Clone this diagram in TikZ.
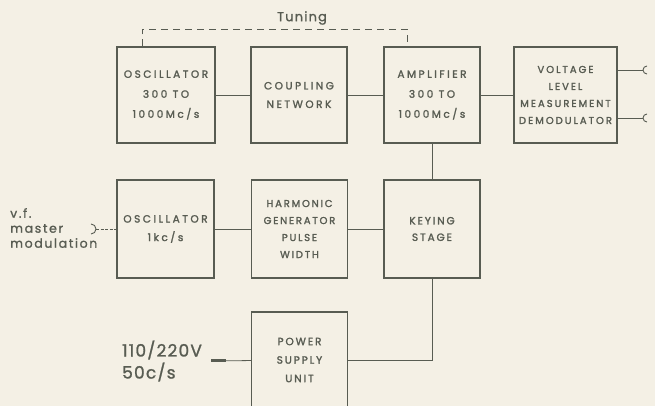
\documentclass[tikz,border=0pt]{standalone}
\usepackage{fontspec}
\setmainfont{Poppins}[FakeBold=1.2]
\newfontfamily\stencil[LetterSpace=24, FakeBold=1.8]{Poppins}
\usetikzlibrary{positioning}
\definecolor{inkGrey}{RGB}{88,92,82}
\definecolor{paper}{RGB}{244,240,229}

\begin{document}
\begin{tikzpicture}[x=1pt, y=1pt,
    unit/.style={draw=inkGrey, line width=1.2pt, minimum width=96pt, minimum height=96pt, inner sep=1pt,
      align=center, text=inkGrey, font=\stencil\fontsize{10.5}{18.5}\selectfont},
    wire/.style={draw=inkGrey, line width=0.8pt},
    jack/.style={draw=inkGrey, line width=0.9pt},
    tag/.style={text=inkGrey, inner sep=0pt}]
  \fill[paper] (0,0) rectangle (655,406);
  \useasboundingbox (0,0) rectangle (655,406);
  \clip (0,0) rectangle (655,406);
  % Top chain
  \node[unit, minimum width=98pt, font=\stencil\fontsize{10.5}{20}\selectfont] (rfosc) at (166,311) {OSCILLATOR\\300 TO\\1000Mc/s};
  \node[unit] (coupling) at (299,311) {COUPLING\\NETWORK};
  \node[unit, font=\stencil\fontsize{10.5}{20}\selectfont] (amp) at (432,311) {AMPLIFIER\\300 TO\\1000Mc/s};
  \node[unit, minimum width=103pt, font=\stencil\fontsize{10}{17}\selectfont\addfontfeature{LetterSpace=20}] (meter) at (565.5,311) {VOLTAGE\\LEVEL\\MEASUREMENT\\DEMODULATOR};
  % Middle chain
  \node[unit, minimum width=97pt, minimum height=98pt] (afosc) at (165.5,177) {OSCILLATOR\\1kc/s};
  \node[unit, minimum height=98pt, font=\stencil\fontsize{10}{17}\selectfont\addfontfeature{LetterSpace=18}] (harmonic) at (299.5,177) {HARMONIC\\GENERATOR\\PULSE\\WIDTH};
  \node[unit, minimum height=98pt, font=\stencil\fontsize{10.5}{16.5}\selectfont\addfontfeature{LetterSpace=18}] (keying) at (432,177) {KEYING\\STAGE};
  % Supply, runs off the page
  \node[unit, minimum height=96pt, font=\stencil\fontsize{10.5}{18.5}\selectfont\addfontfeature{LetterSpace=18}] (supply) at (299.5,46) {POWER\\SUPPLY\\UNIT};
  % Links
  \draw[wire] (rfosc) -- (coupling);
  \draw[wire] (coupling) -- (amp);
  \draw[wire] (amp) -- (meter);
  \draw[wire] (amp) -- (keying);
  \draw[wire] (afosc) -- (harmonic);
  \draw[wire] (harmonic) -- (keying);
  \draw[wire] (keying) |- (supply);
  % Tuning link
  \draw[wire, dashed, dash pattern=on 7pt off 5pt] ([xshift=-24pt]rfosc.north) -- ++(0,17) -| ([xshift=-25pt]amp.north);
  \node[tag, font=\fontsize{13}{15}\selectfont\addfontfeature{LetterSpace=9}] (tuning) at (302,388) {Tuning};
  % Outputs
  \coordinate (outa) at (643,336);
  \coordinate (outb) at (643,288);
  \draw[wire] (meter.east |- outa) -- (outa);
  \draw[wire] (meter.east |- outb) -- (outb);
  \draw[jack] (outa) ++(4,4) arc (90:270:4);
  \draw[jack] (outb) ++(4,4) arc (90:270:4);
  % v.f. input
  \coordinate (vfin) at (96,177);
  \draw[wire, line width=0.6pt, dash pattern=on 3pt off 1.5pt] (vfin) -- (afosc);
  \draw[jack] (vfin) ++(-5,5) arc (90:-90:5);
  \node[tag, anchor=west, align=left, font=\fontsize{12.5}{15}\selectfont\addfontfeature{LetterSpace=13}] (vflabel) at (10,178) {v.f.\\master\\modulation};
  % Mains input
  \coordinate (mains) at (211,45);
  \draw[wire] (mains) -- (supply);
  \draw[inkGrey, line width=3pt] (mains) -- ++(15,0);
  \node[tag, anchor=west, align=left, font=\fontsize{17}{22}\selectfont\addfontfeature{LetterSpace=7}] (mainslabel) at (122,45) {110/220V\\50c/s};
\end{tikzpicture}
\end{document}
